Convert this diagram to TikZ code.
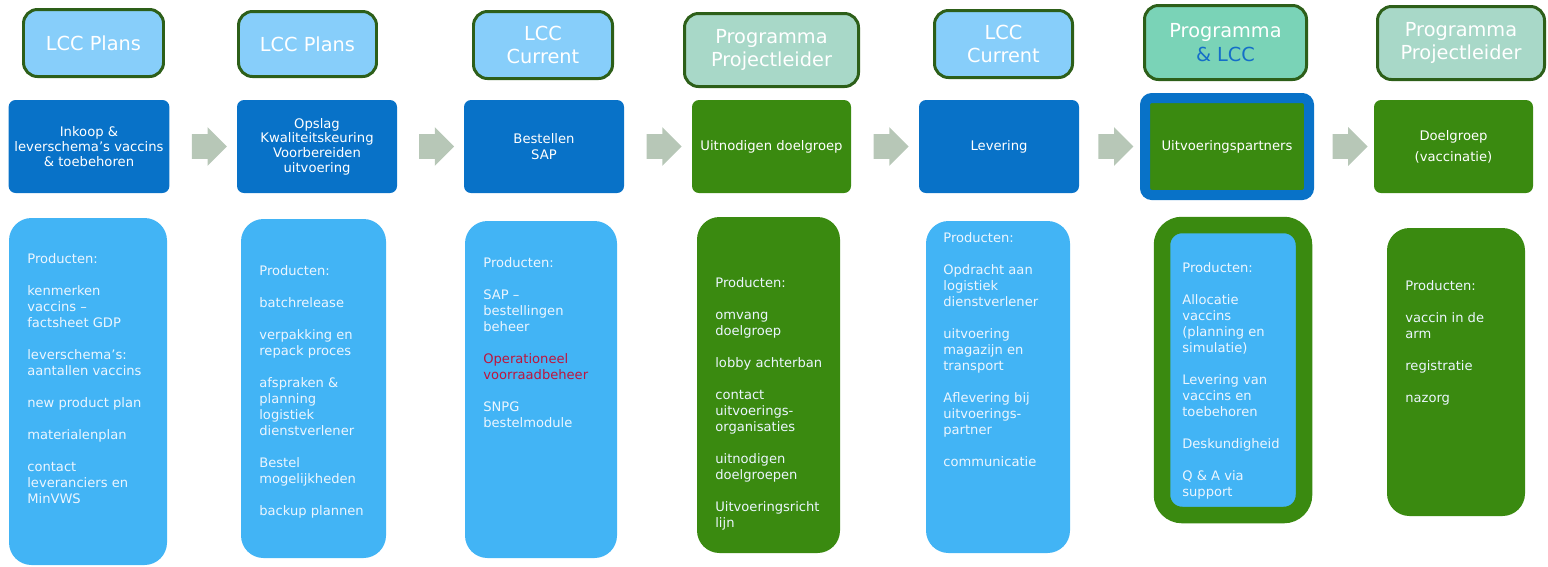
\documentclass[tikz,border=0pt]{standalone}
\usepackage{fontspec}
\setmainfont{DejaVu Sans}
\usetikzlibrary{shapes.arrows,calc}

\definecolor{lccsky}{RGB}{135,206,250}
\definecolor{pmpale}{RGB}{168,216,200}
\definecolor{pmmint}{RGB}{122,211,183}
\definecolor{headline}{RGB}{45,95,25}
\definecolor{lcctext}{RGB}{20,110,200}
\definecolor{stepblue}{RGB}{8,114,200}
\definecolor{stepgreen}{RGB}{58,138,16}
\definecolor{prodsky}{RGB}{66,180,245}
\definecolor{prodtext}{RGB}{236,246,255}
\definecolor{arrowgrey}{RGB}{183,199,183}
\definecolor{alertred}{RGB}{190,20,60}

\newcommand{\ux}{0.02cm}
\newcommand{\itemgap}{\\[9.1pt]}

\tikzset{
  header/.style={draw=headline, line width=1.7pt, rounded corners=0.28cm, text=white, align=center, font=\fontsize{11}{13.3}\selectfont},
  stepbox/.style={rounded corners=0.14cm, text=white, align=center, font=\fontsize{7.5}{8.3}\selectfont},
  prodbox/.style={rounded corners=0.45cm},
  prodlist/.style={anchor=north west, inner sep=0pt, align=left, text=prodtext, font=\fontsize{7.45}{9.1}\selectfont},
  flowarrow/.style={single arrow, fill=arrowgrey, minimum height=35*\ux, inner xsep=0pt, inner ysep=12*\ux, single arrow head extend=7*\ux}
}

\newcommand{\roleheader}[6] {\node at (#1) (#2) [header, fill=#5, minimum width=#3*\ux, minimum height=#4*\ux] {#6};}
\newcommand{\stepnode}[6] {\node at (#1) (#2) [stepbox, #5, minimum width=#3*\ux, minimum height=#4*\ux] {#6};}
\newcommand{\prodnode}[5] {\node at (#1) (#2) [prodbox, #5, minimum width=#3*\ux, minimum height=#4*\ux] {};}
\newcommand{\prodtext}[3] {\node at (#1) (#2) [prodlist] {#3};}
\newcommand{\flow}[2] {\node at ($(#1.east)!0.5!(#2.west)$) (#1#2) [flowarrow] {};}

\begin{document}
\begin{tikzpicture}[x=0.02cm, y=-0.02cm]
\useasboundingbox (0,0) rectangle (1548,566);

% wie
\roleheader {93.5,43} {h1} {140} {67} {lccsky} {LCC Plans};
\roleheader {307.5,44} {h2} {138} {65} {lccsky} {LCC Plans};
\roleheader {543,45} {h3} {139} {67} {lccsky} {LCC\\Current};
\roleheader {771.5,50} {h4} {174} {73} {pmpale} {Programma\\Projectleider};
\roleheader {1003.5,44} {h5} {138} {67} {lccsky} {LCC\\Current};
\roleheader {1225.5,42.5} {h6} {162} {74} {pmmint} {Programma\\\textcolor{lcctext}{\& LCC}};
\roleheader {1461,43} {h7} {167} {73} {pmpale} {Programma\\Projectleider};

% stappen
\stepnode {89,146.5} {s1} {160} {93} {fill=stepblue} {Inkoop \&\\leverschema's vaccins\\\& toebehoren};
\stepnode {317,146.5} {s2} {160} {93} {fill=stepblue} {Opslag\\Kwaliteitskeuring\\Voorbereiden\\uitvoering};
\stepnode {544,146.5} {s3} {160} {93} {fill=stepblue} {Bestellen\\[1.2pt]SAP};
\stepnode {771.5,146.5} {s4} {159} {93} {fill=stepgreen} {Uitnodigen doelgroep};
\stepnode {999,146.5} {s5} {160} {93} {fill=stepblue} {Levering};
\stepnode {1227,146.5} {s6} {164} {97} {fill=stepgreen, draw=stepblue, line width=5.7pt} {Uitvoeringspartners};
\stepnode {1453.5,146.5} {s7} {159} {93} {fill=stepgreen} {Doelgroep\\[3.7pt](vaccinatie)};

\flow{s1}{s2};
\flow{s2}{s3};
\flow{s3}{s4};
\flow{s4}{s5};
\flow{s5}{s6};
\flow{s6}{s7};

% producten
\prodnode {88,391.5} {p1} {158} {347} {fill=prodsky};
\prodnode {313.5,388.5} {p2} {145} {339} {fill=prodsky};
\prodnode {541,389.5} {p3} {152} {337} {fill=prodsky};
\prodnode {768.5,385} {p4} {143} {336} {fill=stepgreen};
\prodnode {998,387} {p5} {144} {332} {fill=prodsky};
\prodnode {1233,370} {p6} {142} {290} {fill=prodsky, draw=stepgreen, line width=9.4pt, rounded corners=0.4cm};
\prodnode {1456,372} {p7} {138} {288} {fill=stepgreen};

\prodtext {27,253} {t1} {Producten:\itemgap kenmerken\\vaccins –\\factsheet GDP\itemgap leverschema's:\\aantallen vaccins\itemgap new product plan\itemgap materialenplan\itemgap contact\\leveranciers en\\MinVWS};
\prodtext {259,265} {t2} {Producten:\itemgap batchrelease\itemgap verpakking en\\repack proces\itemgap afspraken \&\\planning\\logistiek\\dienstverlener\itemgap Bestel\\mogelijkheden\itemgap backup plannen};
\prodtext {483,257} {t3} {Producten:\itemgap SAP –\\bestellingen\\beheer\itemgap \textcolor{alertred}{Operationeel}\\\textcolor{alertred}{voorraadbeheer}\itemgap SNPG\\bestelmodule};
\prodtext {715,277} {t4} {Producten:\itemgap omvang\\doelgroep\itemgap lobby achterban\itemgap contact\\uitvoerings-\\organisaties\itemgap uitnodigen\\doelgroepen\itemgap Uitvoeringsricht\\lijn};
\prodtext {943,232} {t5} {Producten:\itemgap Opdracht aan\\logistiek\\dienstverlener\itemgap uitvoering\\magazijn en\\transport\itemgap Aflevering bij\\uitvoerings-\\partner\itemgap communicatie};
\prodtext {1182,262} {t6} {Producten:\itemgap Allocatie\\vaccins\\(planning en\\simulatie)\itemgap Levering van\\vaccins en\\toebehoren\itemgap Deskundigheid\itemgap Q \& A via\\support};
\prodtext {1405,280} {t7} {Producten:\itemgap vaccin in de\\arm\itemgap registratie\itemgap nazorg};

\end{tikzpicture}
\end{document}
